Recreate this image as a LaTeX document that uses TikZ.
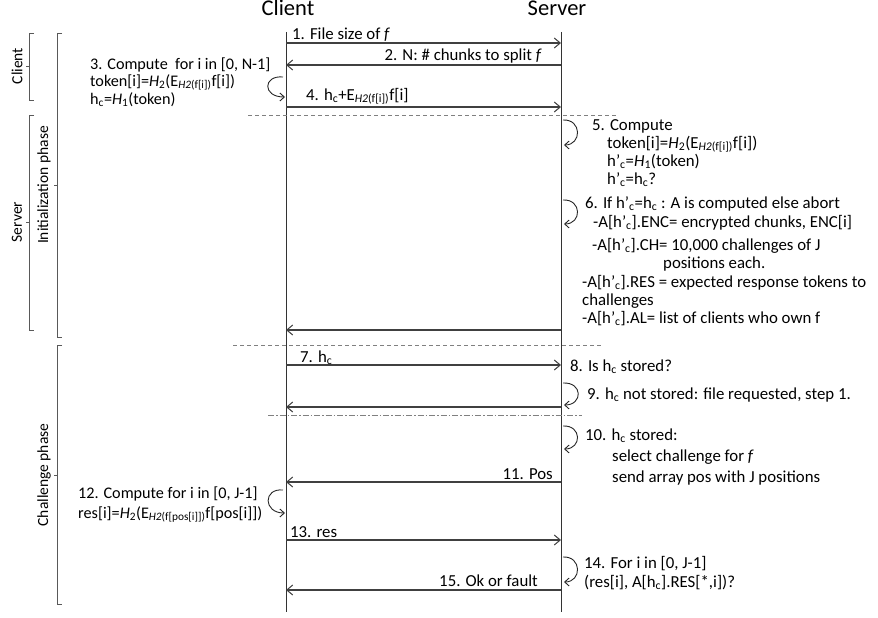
\documentclass[tikz,border=0pt]{standalone}
\usepackage{fontspec}
\setmainfont{Carlito}
\usetikzlibrary{arrows.meta}
\newcommand\sbs[1]{\textsubscript{#1}}
\begin{document}
\begin{tikzpicture}[x=1pt,y=-1pt,
  t/.style={anchor=base west, inner sep=0pt, font=\fontsize{16.8}{17}\selectfont},
  ts/.style={anchor=base west, inner sep=0pt, font=\fontsize{16.2}{17}\selectfont},
  tr/.style={anchor=base east, inner sep=0pt, font=\fontsize{16.8}{17}\selectfont},
  hdr/.style={anchor=base, inner sep=0pt, font=\fontsize{22.5}{24}\selectfont},
  side/.style={rotate=90, inner sep=0pt, font=\fontsize{15.5}{17}\selectfont},
  life/.style={draw=black!80, line width=0.9pt},
  msg/.style={draw=black!75, line width=1.2pt, -{Straight Barb[length=6pt,width=10pt,line width=1pt]}},
  selfloop/.style={draw=black!85, line width=0.9pt, -{Straight Barb[length=4.5pt,width=8pt,line width=0.9pt]}},
  sep/.style={draw=black!50, line width=0.8pt, dash pattern=on 4pt off 3pt},
  sepdd/.style={draw=black!50, line width=0.8pt, dash pattern=on 6pt off 2pt on 1.5pt off 2pt},
  brk/.style={draw=black!65, line width=0.8pt}
]
\useasboundingbox (0,0) rectangle (878,618);

% headers
\node[hdr] (hc) at (288,16) {Client};
\node[hdr] (hs) at (557,16) {Server};

% lifelines
\coordinate (ct) at (286,32);
\coordinate (cb) at (286,612);
\coordinate (st) at (561,32);
\coordinate (sb) at (561,612);
\draw[life] (ct) -- (cb);
\draw[life] (st) -- (sb);

% brackets
\draw[brk] (34,33) -- (29,33) -- (29,100) -- (34,100);
\draw[brk] (29,66) -- (26,66);
\node[side] (bc) at (17,66) {Client};
\draw[brk] (34,115) -- (29,115) -- (29,330) -- (34,330);
\draw[brk] (29,222) -- (26,222);
\node[side] (bs) at (17,222) {Server};
\draw[brk] (62,33) -- (57,33) -- (57,337) -- (62,337);
\draw[brk] (57,185) -- (54,185);
\node[side] (bi) at (44,185) {Initialization phase};
\draw[brk] (62,345) -- (57,345) -- (57,604) -- (62,604);
\draw[brk] (57,475) -- (54,475);
\node[side] (bh) at (44,475) {Challenge phase};

% separators
\coordinate (d1a) at (248,115); \coordinate (d1b) at (617,115);
\draw[sep] (d1a) -- (d1b);
\coordinate (d2a) at (233,345); \coordinate (d2b) at (602,345);
\draw[sep] (d2a) -- (d2b);
\coordinate (d3a) at (268,415); \coordinate (d3b) at (582,415);
\draw[sepdd] (d3a) -- (d3b);

% message endpoints
\foreach \n/\y in {1/43,2/65,4/107,r/330,7/365,9/407,11/482,13/540,15/590}{
  \coordinate (c\n) at (286,\y);
  \coordinate (s\n) at (561,\y);
}
\draw[msg] (c1) -- (s1);
\node[t] (m1) at (292,40) {1. File size of \textit{f}};
\draw[msg] (s2) -- (c2);
\node[tr] (m2) at (542,61) {2. N: \# chunks to split \textit{f}};
\draw[msg] (c4) -- (s4);
\node[t] (m4) at (306,100) {4. h\sbs{c}+E\sbs{\textit{H2}(f[i])}f[i]};
\draw[msg] (sr) -- (cr);
\draw[msg] (c7) -- (s7);
\node[t] (m7) at (300,362) {7. h\sbs{c}};
\draw[msg] (s9) -- (c9);
\draw[msg] (s11) -- (c11);
\node[tr] (m11) at (553,479) {11. Pos};
\draw[msg] (c13) -- (s13);
\node[t] (m13) at (290,537) {13. res};
\draw[msg] (s15) -- (c15);
\node[tr] (m15) at (538,586) {15. Ok or fault};

% step 3 (client)
\coordinate (l3a) at (283,77); \coordinate (l3b) at (285,97);
\draw[selfloop] (l3a) .. controls (263,75) and (262,97) .. (l3b);
\node[ts] (t3a) at (90,70) {3. Compute~ for i in [0, N-1]};
\node[ts] (t3b) at (90,86) {token[i]=\textit{H}\sbs{2}(E\sbs{\textit{H2}(f[i])}f[i])};
\node[ts] (t3c) at (90,104) {h\sbs{c}=\textit{H}\sbs{1}(token)};

% step 5
\coordinate (l5a) at (563,120); \coordinate (l5b) at (564,145);
\draw[selfloop] (l5a) .. controls (582,119) and (582,145) .. (l5b);
\node[t] (t5a) at (592,130) {5. Compute};
\node[t] (t5b) at (607,148) {token[i]=\textit{H}\sbs{2}(E\sbs{\textit{H2}(f[i])}f[i])};
\node[t] (t5c) at (607,166) {h’\sbs{c}=\textit{H}\sbs{1}(token)};
\node[t] (t5d) at (607,184) {h’\sbs{c}=h\sbs{c}?};

% step 6
\coordinate (l6a) at (563,200); \coordinate (l6b) at (564,224);
\draw[selfloop] (l6a) .. controls (582,199) and (582,224) .. (l6b);
\node[t] (t6a) at (585,208) {6. If h’\sbs{c}=h\sbs{c} : A is computed else abort};
\node[t] (t6b) at (593,227) {-A[h’\sbs{c}].ENC= encrypted chunks, ENC[i]};
\node[t] (t6c) at (592,250) {-A[h’\sbs{c}].CH= 10,000 challenges of J};
\node[t] (t6d) at (663,268) {positions each.};
\node[t] (t6e) at (582,287) {-A[h’\sbs{c}].RES = expected response tokens to};
\node[t] (t6f) at (582,305) {challenges};
\node[t] (t6g) at (582,323) {-A[h’\sbs{c}].AL= list of clients who own f};

% step 8
\node[t] (t8) at (570,371) {8. Is h\sbs{c} stored?};

% step 9
\coordinate (l9a) at (563,383); \coordinate (l9b) at (564,405);
\draw[selfloop] (l9a) .. controls (583,382) and (583,405) .. (l9b);
\node[t] (t9) at (587,399) {9. h\sbs{c} not stored: file requested, step 1.};

% step 10
\coordinate (l10a) at (563,426); \coordinate (l10b) at (564,449);
\draw[selfloop] (l10a) .. controls (582,425) and (582,449) .. (l10b);
\node[t] (t10a) at (585,440) {10. h\sbs{c} stored:};
\node[t] (t10b) at (612,461) {select challenge for \textit{f}};
\node[t] (t10c) at (612,482) {send array pos with J positions};

% step 12
\coordinate (l12a) at (283,490); \coordinate (l12b) at (285,513);
\draw[selfloop] (l12a) .. controls (263,488) and (263,513) .. (l12b);
\node[ts] (t12a) at (78,498) {12. Compute for i in [0, J-1]};
\node[ts] (t12b) at (78,518) {res[i]=\textit{H}\sbs{2}(E\sbs{\textit{H2}(f[pos[i]])}f[pos[i]])};

% step 14
\coordinate (l14a) at (563,557); \coordinate (l14b) at (564,582);
\draw[selfloop] (l14a) .. controls (582,556) and (582,582) .. (l14b);
\node[t] (t14a) at (584,568) {14. For i in [0, J-1]};
\node[t] (t14b) at (584,587) {(res[i], A[h\sbs{c}].RES[*,i])?};
\end{tikzpicture}
\end{document}
